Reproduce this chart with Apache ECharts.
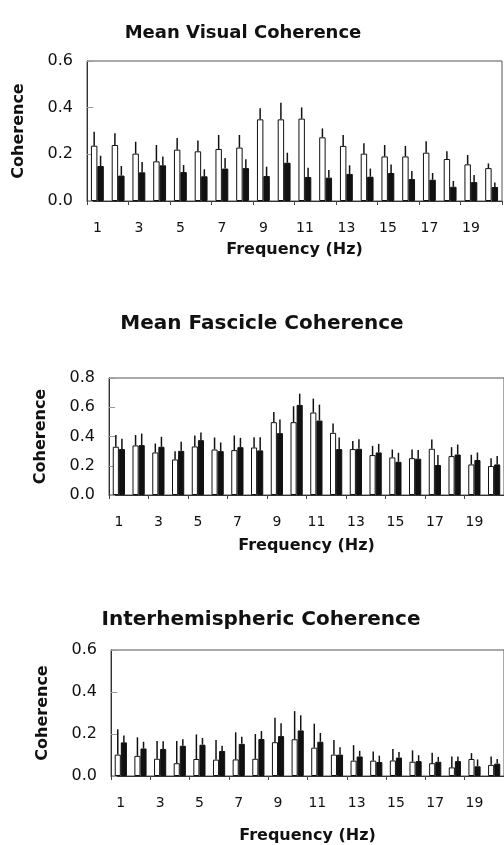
<!DOCTYPE html>
<html>
<head>
<meta charset="utf-8">
<script src="https://cdn.jsdelivr.net/npm/echarts@6/dist/echarts.min.js"></script>
<style>html,body{margin:0;padding:0;background:#fff}#c{width:504px;height:845px}</style>
</head>
<body>
<div id="c"></div>
<script>
var freqs = ['1','2','3','4','5','6','7','8','9','10','11','12','13','14','15','16','17','18','19','20'];

// Panel 1: Mean Visual Coherence
var visualWhite = [0.237,0.240,0.203,0.170,0.220,0.213,0.223,0.229,0.350,0.350,0.353,0.273,0.236,0.203,0.191,0.191,0.207,0.180,0.157,0.141];
var visualWhiteUpper = [0.297,0.290,0.254,0.240,0.270,0.259,0.283,0.283,0.397,0.421,0.401,0.311,0.283,0.247,0.240,0.236,0.256,0.213,0.197,0.161];
var visualBlack = [0.150,0.109,0.123,0.153,0.124,0.106,0.139,0.141,0.107,0.164,0.103,0.100,0.116,0.104,0.120,0.094,0.091,0.061,0.081,0.060];
var visualBlackUpper = [0.194,0.150,0.167,0.191,0.154,0.136,0.184,0.179,0.147,0.207,0.143,0.133,0.153,0.139,0.156,0.129,0.120,0.086,0.111,0.079];

// Panel 2: Mean Fascicle Coherence
var fascWhite = [0.330,0.339,0.291,0.243,0.332,0.311,0.307,0.325,0.498,0.498,0.564,0.425,0.314,0.273,0.257,0.252,0.316,0.266,0.209,0.198];
var fascWhiteUpper = [0.410,0.410,0.352,0.300,0.407,0.393,0.407,0.395,0.568,0.607,0.659,0.489,0.370,0.336,0.311,0.311,0.380,0.327,0.275,0.252];
var fascBlack = [0.314,0.341,0.330,0.302,0.375,0.300,0.327,0.305,0.423,0.616,0.509,0.314,0.316,0.291,0.227,0.248,0.205,0.277,0.239,0.209];
var fascBlackUpper = [0.384,0.420,0.398,0.364,0.427,0.359,0.391,0.395,0.516,0.693,0.618,0.393,0.382,0.350,0.289,0.307,0.273,0.345,0.291,0.266];

// Panel 3: Interhemispheric Coherence
var interWhite = [0.102,0.096,0.082,0.061,0.081,0.078,0.079,0.082,0.161,0.175,0.135,0.102,0.073,0.073,0.074,0.068,0.061,0.041,0.081,0.053];
var interWhiteUpper = [0.223,0.184,0.167,0.167,0.198,0.172,0.208,0.200,0.277,0.309,0.249,0.172,0.147,0.117,0.129,0.122,0.111,0.093,0.109,0.093];
var interBlack = [0.160,0.131,0.129,0.144,0.149,0.119,0.153,0.176,0.190,0.217,0.163,0.102,0.093,0.067,0.088,0.071,0.068,0.071,0.046,0.059];
var interBlackUpper = [0.193,0.163,0.166,0.175,0.181,0.144,0.187,0.214,0.251,0.289,0.205,0.137,0.120,0.097,0.114,0.099,0.091,0.093,0.079,0.081];

var titles = ['Mean Visual Coherence','Mean Fascicle Coherence','Interhemispheric Coherence'];
var yMax = [0.6, 0.8, 0.6];
var yInterval = [0.2, 0.2, 0.2];

var panels = [
  {white: visualWhite, whiteUp: visualWhiteUpper, black: visualBlack, blackUp: visualBlackUpper},
  {white: fascWhite, whiteUp: fascWhiteUpper, black: fascBlack, blackUp: fascBlackUpper},
  {white: interWhite, whiteUp: interWhiteUpper, black: interBlack, blackUp: interBlackUpper}
];

var FONT = '"DejaVu Sans", "Liberation Sans", Arial, sans-serif';
var grids = [
  {left: 87, top: 61, width: 415, height: 140},
  {left: 109, top: 378, width: 396, height: 117},
  {left: 111, top: 650, width: 396, height: 132}
];
var titleLayout = [
  {x: 238, y: 19, size: 18},
  {x: 257, y: 309, size: 20},
  {x: 256, y: 605, size: 20}
];
var xNameGap = [41, 43, 52];
var GAP = 0.38;

var option = {
  animation: false,
  backgroundColor: '#fff',
  title: titles.map(function (t, i) {
    return {
      text: t, left: titleLayout[i].x, top: titleLayout[i].y, textAlign: 'center',
      textStyle: {fontFamily: FONT, fontWeight: 'bold', fontSize: titleLayout[i].size, color: '#111'}
    };
  }),
  grid: grids.map(function (g) {
    return {left: g.left, top: g.top, width: g.width, height: g.height, show: true,
      borderColor: '#555', borderWidth: 1, backgroundColor: 'transparent', containLabel: false};
  }),
  xAxis: grids.map(function (g, i) {
    return {
      type: 'category', gridIndex: i, data: freqs,
      name: 'Frequency (Hz)', nameLocation: 'middle', nameGap: xNameGap[i],
      nameTextStyle: {fontFamily: FONT, fontWeight: 'bold', fontSize: 16, color: '#111'},
      axisLine: {lineStyle: {color: '#333', width: 1}},
      axisTick: {show: true, length: 4, lineStyle: {color: '#444'}},
      axisLabel: {interval: 1, margin: 20, fontFamily: FONT, fontSize: 14, color: '#111'},
      splitLine: {show: false}
    };
  }),
  yAxis: grids.map(function (g, i) {
    return {
      type: 'value', gridIndex: i, min: 0, max: yMax[i], interval: yInterval[i],
      name: 'Coherence', nameLocation: 'middle', nameGap: 60, nameRotate: 90,
      nameTextStyle: {fontFamily: FONT, fontWeight: 'bold', fontSize: 16, color: '#111'},
      axisLine: {show: true, lineStyle: {color: '#333', width: 1}},
      axisTick: {show: true, inside: true, length: 6, lineStyle: {color: '#999'}},
      axisLabel: {margin: 14, fontFamily: FONT, fontSize: 16, color: '#111',
        formatter: function (v) { return v.toFixed(1); }},
      splitLine: {show: false}
    };
  }),
  series: []
};

panels.forEach(function (p, i) {
  option.series.push({
    type: 'bar', xAxisIndex: i, yAxisIndex: i, data: p.white,
    barGap: '0%', barCategoryGap: (GAP * 100) + '%',
    itemStyle: {color: '#fff', borderColor: '#111', borderWidth: 1}, z: 2
  });
  option.series.push({
    type: 'bar', xAxisIndex: i, yAxisIndex: i, data: p.black,
    barGap: '0%', barCategoryGap: (GAP * 100) + '%',
    itemStyle: {color: '#111', borderColor: '#111', borderWidth: 1}, z: 2
  });
  [[p.white, p.whiteUp, -1], [p.black, p.blackUp, 1]].forEach(function (s) {
    var base = s[0], up = s[1], side = s[2];
    option.series.push({
      type: 'custom', xAxisIndex: i, yAxisIndex: i, z: 3,
      data: base.map(function (v, k) { return [k, v, up[k]]; }),
      encode: {x: 0, y: [1, 2]},
      renderItem: function (params, api) {
        var k = api.value(0);
        var p0 = api.coord([k, api.value(1)]);
        var p1 = api.coord([k, api.value(2)]);
        var band = api.size([1, 0])[0];
        var bw = band * (1 - GAP) / 2;
        var x = p0[0] + side * bw / 2;
        return {type: 'line', shape: {x1: x, y1: p0[1], x2: x, y2: p1[1]},
          style: {stroke: '#111', lineWidth: 1.5}};
      }
    });
  });
});

var chart = echarts.init(document.getElementById('c'), null, {renderer: 'canvas'});
chart.setOption(option);
</script>
</body>
</html>
